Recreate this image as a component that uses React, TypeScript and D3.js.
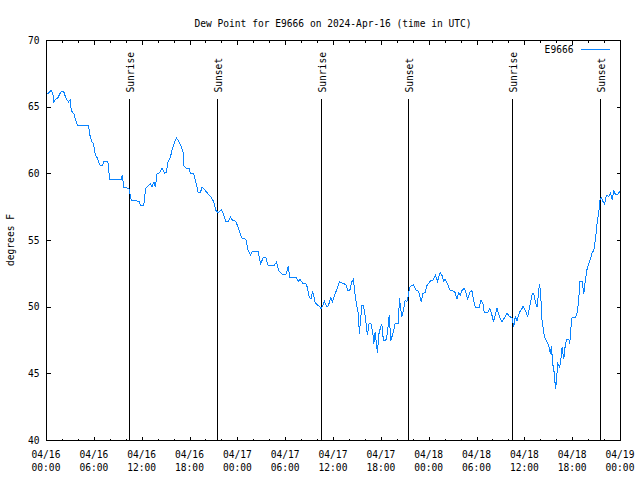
import React from "react";
import * as d3 from "d3";

const title = "Dew Point for E9666 on 2024-Apr-16 (time in UTC)";
const seriesName = "E9666";
const yLabel = "degrees F";
const startISO = "2024-04-16T00:00:00Z";
const endISO = "2024-04-19T00:00:00Z";
const yTicks = [40, 45, 50, 55, 60, 65, 70];

// hours since 2024-04-16 00:00 UTC
const hours = [
  0.16, 0.59, 0.79, 0.92, 1.13, 1.42, 1.85, 2.14, 2.48, 2.76, 2.98, 3.1, 3.43, 3.73, 3.93, 5.28, 5.49, 5.69, 5.91, 6.12,
  6.32, 6.53, 6.75, 7.0, 7.16, 7.7, 7.92, 9.39, 9.51, 9.68, 10.34, 10.64, 11.6, 11.81, 12.19, 12.44, 12.73, 13.07, 13.23, 13.48,
  13.66, 13.86, 14.2, 14.49, 14.83, 15.04, 15.24, 15.54, 15.8, 16.08, 16.3, 16.62, 16.93, 17.13, 17.25, 17.55, 17.88, 18.06, 18.47, 18.81,
  19.01, 19.31, 19.51, 19.85, 20.27, 20.7, 20.99, 21.24, 21.53, 21.95, 22.15, 22.49, 22.83, 23.08, 23.34, 23.75, 24.16, 24.47, 25.01, 25.3,
  25.6, 25.8, 26.55, 26.85, 27.18, 27.52, 27.81, 28.53, 28.86, 29.15, 29.57, 30.03, 30.32, 30.54, 31.38, 31.58, 31.79, 32.13, 32.51, 32.71,
  32.96, 33.17, 33.39, 33.68, 33.89, 34.18, 34.43, 34.64, 34.85, 35.15, 35.35, 35.65, 35.85, 36.19, 36.48, 36.73, 37.32, 37.53, 37.79, 38.08,
  38.29, 38.49, 38.7, 38.92, 39.12, 39.24, 39.46, 39.55, 39.75, 39.96, 40.25, 40.46, 40.71, 40.93, 41.05, 41.22, 41.34, 41.51, 41.72, 42.06,
  42.26, 42.56, 42.76, 42.98, 43.19, 43.44, 43.73, 44.14, 44.27, 44.57, 44.77, 44.99, 45.2, 45.4, 45.53, 46.03, 46.37, 46.66, 47.0, 47.21,
  47.5, 47.71, 48.13, 48.54, 48.76, 49.05, 49.38, 49.6, 49.8, 50.01, 50.3, 50.55, 51.06, 51.27, 51.48, 51.68, 51.9, 52.11, 52.4, 52.65,
  52.82, 53.07, 53.37, 53.57, 53.78, 54.28, 54.5, 54.75, 54.91, 55.33, 55.58, 55.79, 56.08, 56.21, 56.51, 56.84, 57.14, 57.34, 57.77, 58.09,
  58.39, 58.6, 58.81, 59.02, 59.22, 59.44, 59.65, 59.78, 60.07, 60.36, 60.61, 60.91, 61.11, 61.32, 61.54, 61.74, 61.86, 62.04, 62.16, 62.37,
  62.58, 62.79, 62.99, 63.21, 63.33, 63.5, 63.71, 63.84, 63.96, 64.12, 64.34, 64.46, 64.68, 64.88, 65.09, 65.31, 65.51, 65.63, 65.81, 65.93,
  66.35, 66.56, 66.76, 66.89, 67.19, 67.39, 67.61, 67.82, 68.02, 68.23, 68.45, 68.65, 68.86, 69.08, 69.28, 69.4, 69.58, 69.83, 70.0, 70.24,
  70.53, 70.75, 70.96, 71.16, 71.37, 71.66, 71.91,
];

const dewpoint = [
  66.0, 66.25, 66.0, 65.4, 65.6, 65.7, 66.2, 66.2, 65.6, 65.4, 65.55, 64.75, 64.5, 63.9, 63.6, 63.6, 62.75, 62.4, 62.25, 61.4,
  61.25, 60.9, 60.6, 60.6, 60.9, 60.9, 59.6, 59.6, 59.9, 59.0, 58.9, 58.0, 57.95, 57.6, 57.6, 58.9, 59.1, 59.25, 59.0, 59.4,
  59.0, 60.0, 60.1, 60.4, 60.05, 60.1, 60.9, 61.25, 61.9, 62.4, 62.7, 62.4, 62.0, 61.6, 60.6, 60.4, 60.4, 60.05, 60.0, 59.2,
  58.6, 58.6, 59.0, 58.8, 58.5, 58.2, 57.9, 57.25, 57.1, 57.3, 57.05, 56.45, 56.45, 56.75, 56.5, 56.45, 55.75, 55.2, 55.1, 54.25,
  53.9, 54.2, 54.2, 53.25, 53.7, 53.7, 53.1, 53.1, 53.4, 52.7, 52.45, 52.45, 53.05, 52.2, 52.2, 51.9, 52.1, 51.8, 51.8, 51.5,
  50.75, 50.6, 51.2, 50.4, 50.2, 50.1, 49.9, 50.1, 50.45, 50.05, 50.1, 50.7, 50.4, 51.0, 51.4, 51.9, 51.75, 51.7, 51.25, 51.3,
  51.9, 52.1, 51.0, 50.1, 49.5, 48.0, 49.5, 50.1, 50.1, 49.4, 47.9, 48.75, 48.75, 48.1, 47.25, 48.1, 47.5, 46.6, 48.1, 48.75,
  47.5, 47.5, 48.0, 49.4, 47.5, 48.0, 48.75, 48.75, 50.7, 49.25, 49.75, 50.5, 50.4, 50.9, 51.5, 51.7, 51.25, 51.2, 50.4, 51.0,
  51.1, 51.6, 51.95, 52.05, 52.4, 51.95, 52.6, 52.4, 51.95, 52.1, 51.75, 51.3, 51.2, 51.1, 50.6, 51.1, 50.9, 51.25, 51.4, 51.05,
  50.55, 51.1, 51.25, 50.5, 50.0, 50.0, 50.55, 50.25, 49.6, 49.6, 49.9, 49.6, 48.9, 49.2, 49.9, 49.25, 48.9, 49.1, 49.55, 49.3,
  49.2, 48.55, 49.3, 49.0, 49.4, 49.75, 49.9, 50.1, 49.75, 49.3, 50.0, 50.95, 51.05, 50.4, 50.0, 51.25, 51.75, 50.4, 49.0, 48.1,
  47.6, 47.4, 47.1, 46.5, 47.05, 45.75, 45.0, 43.9, 44.4, 45.75, 45.5, 45.8, 47.0, 46.1, 47.25, 47.6, 47.6, 47.25, 48.6, 49.25,
  49.25, 49.6, 50.5, 51.9, 51.9, 51.0, 52.1, 52.9, 53.25, 53.6, 54.1, 54.25, 55.1, 56.4, 57.1, 58.0, 58.25, 57.9, 57.75, 58.4,
  58.3, 58.55, 58.05, 58.7, 58.45, 58.45, 58.7,
];

const sunEventTimes = [
  "2024-04-16T10:24:00Z", "2024-04-16T21:24:00Z", "2024-04-17T10:26:00Z",
  "2024-04-17T21:21:00Z", "2024-04-18T10:24:00Z", "2024-04-18T21:26:00Z",
];
const sunEventLabels = ["Sunrise", "Sunset", "Sunrise", "Sunset", "Sunrise", "Sunset"];

const FONT = "'DejaVu Sans Mono', 'Liberation Mono', monospace";
const LINE_COLOR = "#0a84ff";

export default function App() {
  const start = new Date(startISO);
  const end = new Date(endISO);
  const x = d3.scaleUtc().domain([start, end]).range([46.5, 620.5]);
  const y = d3.scaleLinear().domain([40, 70]).range([440.5, 40.5]);

  const points = hours.map((h, i) => ({ t: new Date(start.getTime() + h * 3600000), v: dewpoint[i] }));
  const line = d3
    .line<{ t: Date; v: number }>()
    .x((d) => x(d.t))
    .y((d) => y(d.v));

  const majorTicks = d3.utcHour.every(6)!.range(start, new Date(end.getTime() + 1));
  const minorTicks = d3.utcHour.every(2)!.range(start, new Date(end.getTime() + 1)).filter((t) => t.getUTCHours() % 6 !== 0);
  const fmtDate = d3.utcFormat("%m/%d");
  const fmtTime = d3.utcFormat("%H:%M");

  const [x0, x1] = x.range();
  const [yb, yt] = y.range();
  const fs = 9.6;

  return (
    <svg width={640} height={480} style={{ position: "absolute", left: 0, top: 0, background: "#fff" }}>
      <rect x={0} y={0} width={640} height={480} fill="#fff" />
      <text x={333} y={27} textAnchor="middle" fontFamily={FONT} fontSize={fs} fill="#000">
        {title}
      </text>

      {/* sunrise / sunset */}
      {sunEventTimes.map((s, i) => {
        const xx = Math.round(x(new Date(s)) - 0.5) + 0.5;
        return (
          <g key={s}>
            <line x1={xx} x2={xx} y1={y(65.6)} y2={yb} stroke="#000" strokeWidth={1} shapeRendering="crispEdges" />
            <text
              transform={`translate(${xx + 1},${y(66.1)}) rotate(-90)`}
              fontFamily={FONT}
              fontSize={fs}
              dominantBaseline="middle"
              textAnchor="start"
              fill="#000"
            >
              {sunEventLabels[i]}
            </text>
          </g>
        );
      })}

      {/* data */}
      <path d={line(points) || ""} fill="none" stroke={LINE_COLOR} strokeWidth={1} shapeRendering="crispEdges" />

      {/* frame */}
      <rect x={x0} y={yt} width={x1 - x0} height={yb - yt} fill="none" stroke="#000" strokeWidth={1} shapeRendering="crispEdges" />

      {/* y ticks */}
      {yTicks.map((v) => (
        <g key={v}>
          <line x1={x0} x2={x0 + 4} y1={y(v)} y2={y(v)} stroke="#000" shapeRendering="crispEdges" />
          <line x1={x1} x2={x1 - 4} y1={y(v)} y2={y(v)} stroke="#000" shapeRendering="crispEdges" />
          <text x={39.5} y={y(v)} textAnchor="end" dominantBaseline="middle" fontFamily={FONT} fontSize={fs} fill="#000">
            {v}
          </text>
        </g>
      ))}

      {/* x ticks */}
      {majorTicks.map((t) => {
        const xx = x(t);
        return (
          <g key={t.toISOString()}>
            <line x1={xx} x2={xx} y1={yb} y2={yb - 4} stroke="#000" shapeRendering="crispEdges" />
            <line x1={xx} x2={xx} y1={yt} y2={yt + 4} stroke="#000" shapeRendering="crispEdges" />
            <text x={xx - 0.5} y={455} textAnchor="middle" dominantBaseline="middle" fontFamily={FONT} fontSize={fs} fill="#000">
              {fmtDate(t)}
            </text>
            <text x={xx - 0.5} y={467.5} textAnchor="middle" dominantBaseline="middle" fontFamily={FONT} fontSize={fs} fill="#000">
              {fmtTime(t)}
            </text>
          </g>
        );
      })}
      {minorTicks.map((t) => {
        const xx = x(t);
        return (
          <g key={"m" + t.toISOString()}>
            <line x1={xx} x2={xx} y1={yb} y2={yb - 2} stroke="#000" shapeRendering="crispEdges" />
            <line x1={xx} x2={xx} y1={yt} y2={yt + 2} stroke="#000" shapeRendering="crispEdges" />
          </g>
        );
      })}

      {/* y label */}
      <text
        transform={`translate(11,240) rotate(-90)`}
        textAnchor="middle"
        dominantBaseline="middle"
        fontFamily={FONT}
        fontSize={fs}
        fill="#000"
      >
        {yLabel}
      </text>

      {/* legend */}
      <text x={573.5} y={49.5} textAnchor="end" dominantBaseline="middle" fontFamily={FONT} fontSize={fs} fill="#000">
        {seriesName}
      </text>
      <line x1={581} x2={610} y1={49.5} y2={49.5} stroke={LINE_COLOR} strokeWidth={1} shapeRendering="crispEdges" />
    </svg>
  );
}
